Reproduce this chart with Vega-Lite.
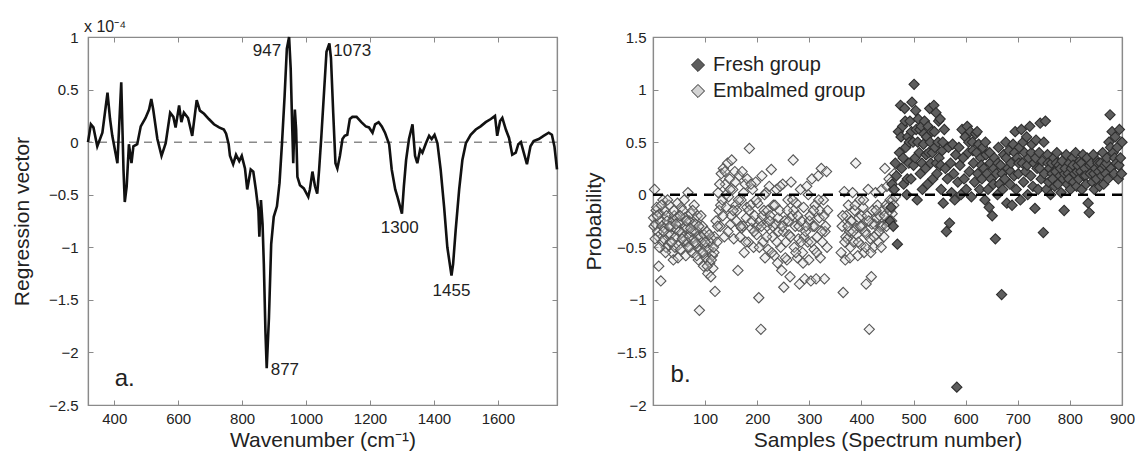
{
"$schema": "https://vega.github.io/schema/vega-lite/v6.json",
"padding": {"left": 10, "top": 18, "right": 5, "bottom": 5},
"config": {
 "font": "Liberation Sans",
 "view": {"stroke": "#8a8a8a", "strokeWidth": 1.2},
 "axis": {"grid": false, "domainColor": "#8a8a8a", "domainWidth": 1.2, "tickColor": "#8a8a8a", "tickSize": -5, "labelFontSize": 15, "labelColor": "#222", "titleFontSize": 21, "titleFontWeight": "normal", "titleColor": "#222", "labelFlush": false, "labelOverlap": false},
 "axisX": {"labelPadding": 11, "titlePadding": 3},
 "axisY": {"labelPadding": 15, "titlePadding": 16},
 "text": {"fontSize": 17, "color": "#222"}
},
"datasets": {
 "spec": [
{"w":318,"v":0},{"w":327,"v":0.17},{"w":335,"v":0.14},{"w":347,"v":-0.04},{"w":363,"v":0.09},{"w":379,"v":0.47},{"w":387,"v":0.22},{"w":394,"v":0.06},{"w":410,"v":-0.2},{"w":422,"v":0.57},{"w":429,"v":-0.26},{"w":433,"v":-0.57},{"w":439,"v":-0.42},{"w":446,"v":-0.02},{"w":454,"v":-0.2},{"w":460,"v":-0.04},{"w":472,"v":-0.02},{"w":483,"v":0.15},{"w":498,"v":0.23},{"w":509,"v":0.31},{"w":516,"v":0.41},{"w":522,"v":0.31},{"w":535,"v":0.03},{"w":548,"v":-0.13},{"w":561,"v":-0.01},{"w":575,"v":0.28},{"w":585,"v":0.24},{"w":592,"v":0.14},{"w":603,"v":0.35},{"w":610,"v":0.19},{"w":618,"v":0.28},{"w":631,"v":0.23},{"w":644,"v":0.06},{"w":658,"v":0.4},{"w":668,"v":0.3},{"w":681,"v":0.27},{"w":696,"v":0.22},{"w":712,"v":0.17},{"w":728,"v":0.14},{"w":743,"v":0.12},{"w":750,"v":0.08},{"w":758,"v":-0.02},{"w":762,"v":-0.13},{"w":772,"v":-0.21},{"w":781,"v":-0.12},{"w":791,"v":-0.18},{"w":799,"v":-0.13},{"w":809,"v":-0.25},{"w":816,"v":-0.45},{"w":827,"v":-0.26},{"w":835,"v":-0.28},{"w":843,"v":-0.45},{"w":851,"v":-0.65},{"w":854,"v":-0.9},{"w":859,"v":-0.55},{"w":864,"v":-0.78},{"w":868,"v":-1.16},{"w":873,"v":-1.8},{"w":877,"v":-2.15},{"w":884,"v":-1.67},{"w":891,"v":-0.97},{"w":899,"v":-0.71},{"w":909,"v":-0.61},{"w":917,"v":-0.39},{"w":925,"v":0},{"w":933,"v":0.44},{"w":940,"v":0.89},{"w":947,"v":1.0},{"w":952,"v":0.7},{"w":957,"v":0.12},{"w":960,"v":-0.2},{"w":965,"v":0.31},{"w":969,"v":0.12},{"w":973,"v":-0.33},{"w":981,"v":-0.41},{"w":993,"v":-0.44},{"w":1007,"v":-0.52},{"w":1012,"v":-0.45},{"w":1020,"v":-0.28},{"w":1028,"v":-0.42},{"w":1035,"v":-0.49},{"w":1041,"v":-0.26},{"w":1048,"v":0.06},{"w":1057,"v":0.51},{"w":1064,"v":0.86},{"w":1073,"v":0.94},{"w":1078,"v":0.8},{"w":1085,"v":0.28},{"w":1092,"v":-0.2},{"w":1098,"v":-0.25},{"w":1106,"v":-0.13},{"w":1114,"v":0.03},{"w":1121,"v":0.06},{"w":1129,"v":0.07},{"w":1137,"v":0.22},{"w":1145,"v":0.24},{"w":1158,"v":0.24},{"w":1173,"v":0.19},{"w":1187,"v":0.15},{"w":1197,"v":0.14},{"w":1208,"v":0.09},{"w":1216,"v":0.17},{"w":1227,"v":0.19},{"w":1237,"v":0.15},{"w":1247,"v":0.09},{"w":1260,"v":-0.02},{"w":1268,"v":-0.26},{"w":1279,"v":-0.45},{"w":1286,"v":-0.52},{"w":1300,"v":-0.68},{"w":1306,"v":-0.42},{"w":1313,"v":-0.17},{"w":1322,"v":0.03},{"w":1333,"v":0.17},{"w":1341,"v":-0.13},{"w":1348,"v":-0.2},{"w":1357,"v":-0.07},{"w":1364,"v":-0.1},{"w":1375,"v":-0.01},{"w":1385,"v":0.06},{"w":1393,"v":0.03},{"w":1402,"v":0.07},{"w":1411,"v":-0.01},{"w":1421,"v":-0.26},{"w":1432,"v":-0.62},{"w":1442,"v":-1.0},{"w":1455,"v":-1.27},{"w":1460,"v":-1.16},{"w":1468,"v":-0.84},{"w":1479,"v":-0.45},{"w":1489,"v":-0.17},{"w":1500,"v":-0.01},{"w":1515,"v":0.07},{"w":1531,"v":0.12},{"w":1546,"v":0.15},{"w":1562,"v":0.19},{"w":1578,"v":0.22},{"w":1591,"v":0.25},{"w":1598,"v":0.06},{"w":1607,"v":0.2},{"w":1614,"v":0.23},{"w":1625,"v":0.12},{"w":1635,"v":0.04},{"w":1645,"v":-0.12},{"w":1656,"v":-0.1},{"w":1664,"v":-0.02},{"w":1672,"v":0},{"w":1681,"v":-0.1},{"w":1691,"v":-0.21},{"w":1702,"v":-0.04},{"w":1712,"v":0.01},{"w":1728,"v":0.03},{"w":1743,"v":0.06},{"w":1759,"v":0.09},{"w":1769,"v":0.07},{"w":1777,"v":-0.04},{"w":1785,"v":-0.26}
 ],
 "emb": [
{"s":1,"p":-0.22},{"s":2,"p":-0.3},{"s":3,"p":0.05},{"s":5,"p":-0.28},{"s":6,"p":-0.15},{"s":7,"p":-0.12},{"s":9,"p":-0.35},{"s":10,"p":-0.4},{"s":11,"p":-0.68},{"s":13,"p":-0.18},{"s":14,"p":-0.25},{"s":15,"p":-0.82},{"s":17,"p":-0.3},{"s":18,"p":-0.45},{"s":19,"p":-0.05},{"s":21,"p":-0.42},{"s":22,"p":-0.32},{"s":23,"p":-0.15},{"s":25,"p":-0.5},{"s":26,"p":-0.2},{"s":27,"p":-0.25},{"s":29,"p":-0.38},{"s":30,"p":-0.48},{"s":31,"p":-0.1},{"s":33,"p":-0.45},{"s":34,"p":-0.38},{"s":35,"p":-0.3},{"s":37,"p":-0.55},{"s":38,"p":-0.25},{"s":39,"p":-0.62},{"s":41,"p":-0.2},{"s":42,"p":-0.5},{"s":43,"p":-0.4},{"s":45,"p":-0.33},{"s":46,"p":-0.22},{"s":47,"p":-0.08},{"s":49,"p":-0.48},{"s":50,"p":-0.35},{"s":51,"p":-0.27},{"s":53,"p":-0.52},{"s":54,"p":-0.12},{"s":55,"p":-0.36},{"s":57,"p":-0.15},{"s":58,"p":-0.4},{"s":59,"p":-0.44},{"s":61,"p":-0.22},{"s":62,"p":-0.3},{"s":63,"p":-0.58},{"s":65,"p":-0.32},{"s":66,"p":-0.45},{"s":67,"p":0.02},{"s":69,"p":-0.4},{"s":70,"p":-0.25},{"s":71,"p":-0.5},{"s":73,"p":-0.18},{"s":74,"p":-0.35},{"s":75,"p":-0.55},{"s":77,"p":-0.28},{"s":78,"p":-0.42},{"s":79,"p":-0.1},{"s":81,"p":-0.35},{"s":82,"p":-0.28},{"s":83,"p":-0.47},{"s":85,"p":-0.2},{"s":86,"p":-0.4},{"s":87,"p":-0.62},{"s":89,"p":-1.1},{"s":90,"p":-0.52},{"s":91,"p":-0.4},{"s":93,"p":-0.55},{"s":94,"p":-0.45},{"s":95,"p":-0.3},{"s":97,"p":-0.68},{"s":98,"p":-0.38},{"s":99,"p":-0.48},{"s":101,"p":-0.6},{"s":102,"p":-0.5},{"s":103,"p":-0.35},{"s":105,"p":-0.75},{"s":106,"p":-0.62},{"s":107,"p":-0.52},{"s":109,"p":-0.65},{"s":110,"p":-0.45},{"s":111,"p":-0.78},{"s":113,"p":-0.42},{"s":114,"p":-0.58},{"s":115,"p":-0.7},{"s":117,"p":-0.55},{"s":118,"p":-0.4},{"s":119,"p":-0.92},
{"s":121,"p":-0.25},{"s":123,"p":-0.45},{"s":125,"p":0.02},{"s":127,"p":-0.15},{"s":129,"p":-0.3},{"s":130,"p":-0.1},{"s":131,"p":0.2},{"s":133,"p":-0.05},{"s":135,"p":0.25},{"s":137,"p":-0.4},{"s":139,"p":0.1},{"s":140,"p":0.0},{"s":141,"p":-0.12},{"s":143,"p":0.3},{"s":145,"p":-0.02},{"s":147,"p":0.15},{"s":149,"p":-0.28},{"s":150,"p":-0.2},{"s":151,"p":0.33},{"s":153,"p":0.05},{"s":155,"p":-0.42},{"s":157,"p":0.22},{"s":159,"p":-0.1},{"s":160,"p":-0.25},
{"s":161,"p":-0.15},{"s":163,"p":-0.72},{"s":165,"p":0.18},{"s":167,"p":-0.4},{"s":169,"p":-0.05},{"s":170,"p":-0.32},{"s":171,"p":0.22},{"s":173,"p":-0.3},{"s":175,"p":-0.55},{"s":177,"p":0.1},{"s":179,"p":-0.22},{"s":180,"p":-0.12},{"s":181,"p":0.15},{"s":183,"p":-0.45},{"s":185,"p":0.44},{"s":187,"p":-0.1},{"s":189,"p":-0.32},{"s":190,"p":-0.25},{"s":191,"p":0.05},{"s":193,"p":-0.5},{"s":195,"p":-0.2},{"s":197,"p":0.12},{"s":199,"p":-0.38},{"s":200,"p":-0.3},{"s":201,"p":-0.08},{"s":203,"p":-0.98},{"s":205,"p":-0.25},{"s":207,"p":-1.28},{"s":209,"p":0.18},{"s":210,"p":-0.2},{"s":211,"p":-0.45},{"s":213,"p":-0.15},{"s":215,"p":-0.6},{"s":217,"p":0.02},{"s":219,"p":-0.3},{"s":220,"p":-0.15},{"s":221,"p":-0.52},{"s":223,"p":0.08},{"s":225,"p":-0.2},{"s":227,"p":0.24},{"s":229,"p":-0.4},{"s":230,"p":-0.3},{"s":231,"p":-0.1},{"s":233,"p":-0.58},{"s":235,"p":-0.28},{"s":237,"p":0.05},{"s":239,"p":-0.65},{"s":240,"p":-0.22},{"s":241,"p":-0.35},{"s":243,"p":-0.15},{"s":245,"p":-0.5},{"s":247,"p":-0.72},{"s":249,"p":0.1},{"s":250,"p":-0.35},{"s":251,"p":-0.88},{"s":253,"p":-0.25},{"s":255,"p":-0.45},{"s":257,"p":-0.62},{"s":259,"p":-0.05},{"s":260,"p":-0.25},{"s":261,"p":-0.38},{"s":263,"p":-0.78},{"s":265,"p":0.12},{"s":267,"p":-0.2},{"s":269,"p":0.33},{"s":270,"p":-0.15},{"s":271,"p":-0.5},{"s":273,"p":-0.3},{"s":275,"p":-0.08},{"s":277,"p":-0.6},{"s":279,"p":-0.42},{"s":280,"p":-0.3},{"s":281,"p":-0.85},{"s":283,"p":0.05},{"s":285,"p":-0.25},{"s":287,"p":-0.55},{"s":289,"p":-0.12},{"s":290,"p":-0.4},{"s":291,"p":-0.8},{"s":293,"p":-0.35},{"s":295,"p":0.08},{"s":297,"p":-0.45},{"s":299,"p":-0.62},{"s":300,"p":-0.25},{"s":301,"p":-0.2},{"s":303,"p":-0.82},{"s":305,"p":0.15},{"s":307,"p":-0.3},{"s":309,"p":-0.52},{"s":310,"p":-0.3},{"s":311,"p":-0.1},{"s":313,"p":-0.8},{"s":315,"p":-0.4},{"s":317,"p":0.18},{"s":319,"p":-0.22},{"s":320,"p":-0.15},{"s":321,"p":-0.6},{"s":323,"p":0.25},{"s":325,"p":-0.45},{"s":327,"p":-0.05},{"s":329,"p":-0.8},{"s":330,"p":-0.35},{"s":331,"p":-0.3},{"s":333,"p":0.22},{"s":335,"p":-0.15},
{"s":361,"p":-0.55},{"s":363,"p":-0.3},{"s":365,"p":-0.93},{"s":367,"p":0.03},{"s":369,"p":-0.62},{"s":370,"p":-0.4},{"s":371,"p":-0.2},{"s":373,"p":-0.42},{"s":375,"p":-0.1},{"s":377,"p":-0.35},{"s":379,"p":-0.5},{"s":380,"p":-0.25},{"s":381,"p":-0.25},{"s":383,"p":0.02},{"s":385,"p":-0.45},{"s":387,"p":-0.15},{"s":389,"p":0.3},{"s":390,"p":-0.32},{"s":391,"p":-0.38},{"s":393,"p":-0.58},{"s":395,"p":-0.22},{"s":397,"p":-0.05},{"s":399,"p":-0.48},{"s":400,"p":-0.2},{"s":401,"p":-0.3},{"s":403,"p":-0.12},{"s":405,"p":-0.55},{"s":407,"p":-0.35},{"s":409,"p":-0.85},{"s":410,"p":-0.38},{"s":411,"p":-0.2},{"s":413,"p":0.05},{"s":415,"p":-1.28},{"s":417,"p":-0.42},{"s":419,"p":-0.78},{"s":420,"p":-0.28},{"s":421,"p":-0.15},{"s":423,"p":-0.5},{"s":425,"p":-0.28},{"s":427,"p":0.02},{"s":429,"p":-0.38},{"s":430,"p":-0.22},{"s":431,"p":-0.1},{"s":433,"p":-0.45},{"s":435,"p":-0.2},{"s":437,"p":-0.3},{"s":439,"p":0.05},{"s":440,"p":-0.3},{"s":441,"p":-0.15},{"s":443,"p":-0.4},{"s":445,"p":0.25},{"s":447,"p":-0.1},{"s":449,"p":0.08},{"s":450,"p":-0.12},{"s":451,"p":-0.25},{"s":453,"p":0.15},{"s":455,"p":-0.05},{"s":457,"p":0.12},{"s":459,"p":-0.18},{"s":460,"p":-0.05},{"s":461,"p":0.05},{"s":463,"p":0.2},{"s":465,"p":-0.02},
{"s":4,"p":-0.42},{"s":8,"p":-0.2},{"s":12,"p":-0.5},{"s":16,"p":-0.1},{"s":20,"p":-0.35},{"s":24,"p":-0.55},{"s":28,"p":-0.05},{"s":32,"p":-0.3},{"s":36,"p":-0.45},{"s":40,"p":-0.15},{"s":44,"p":-0.28},{"s":48,"p":-0.6},{"s":52,"p":-0.2},{"s":56,"p":-0.42},{"s":60,"p":-0.05},{"s":64,"p":-0.25},{"s":68,"p":-0.5},{"s":72,"p":-0.32},{"s":76,"p":-0.15},{"s":80,"p":-0.45},{"s":84,"p":-0.58},{"s":88,"p":-0.3},{"s":92,"p":-0.2},{"s":96,"p":-0.55},{"s":100,"p":-0.45},{"s":104,"p":-0.68},{"s":108,"p":-0.38},{"s":112,"p":-0.62},{"s":116,"p":-0.5},
{"s":124,"p":-0.3},{"s":128,"p":0.1},{"s":134,"p":-0.2},{"s":138,"p":0.22},{"s":144,"p":-0.35},{"s":148,"p":0.05},{"s":154,"p":-0.15},{"s":158,"p":0.12},
{"s":164,"p":-0.05},{"s":168,"p":-0.3},{"s":174,"p":0.02},{"s":178,"p":-0.45},{"s":184,"p":-0.15},{"s":188,"p":0.1},{"s":194,"p":-0.35},{"s":198,"p":-0.05},{"s":204,"p":-0.5},{"s":208,"p":-0.3},{"s":214,"p":0.0},{"s":218,"p":-0.4},{"s":224,"p":-0.25},{"s":228,"p":-0.55},{"s":234,"p":-0.1},{"s":238,"p":-0.45},{"s":244,"p":0.08},{"s":248,"p":-0.3},{"s":254,"p":-0.6},{"s":258,"p":-0.15},{"s":264,"p":-0.4},{"s":268,"p":-0.05},{"s":274,"p":-0.55},{"s":278,"p":-0.2},{"s":284,"p":-0.45},{"s":288,"p":-0.65},{"s":294,"p":-0.3},{"s":298,"p":0.0},{"s":304,"p":-0.45},{"s":308,"p":-0.15},{"s":314,"p":-0.55},{"s":318,"p":-0.05},{"s":324,"p":-0.35},{"s":328,"p":-0.2},{"s":334,"p":-0.5},
{"s":364,"p":-0.2},{"s":368,"p":-0.45},{"s":374,"p":-0.3},{"s":378,"p":-0.6},{"s":384,"p":-0.35},{"s":388,"p":-0.1},{"s":394,"p":-0.45},{"s":398,"p":-0.3},{"s":404,"p":-0.05},{"s":408,"p":-0.5},{"s":414,"p":-0.25},{"s":418,"p":-0.55},{"s":424,"p":-0.4},{"s":428,"p":-0.15},{"s":434,"p":-0.35},{"s":438,"p":-0.5},{"s":444,"p":-0.2},{"s":448,"p":-0.3},{"s":454,"p":-0.15},{"s":458,"p":-0.25},{"s":462,"p":-0.1}
 ],
 "fresh": [
{"s":455,"p":-0.25},{"s":457,"p":-0.12},{"s":459,"p":0.1},{"s":461,"p":-0.3},{"s":463,"p":0.05},{"s":465,"p":0.3},{"s":467,"p":0.18},{"s":469,"p":-0.47},{"s":471,"p":0.6},{"s":473,"p":0.4},{"s":475,"p":0.85},{"s":476,"p":0.55},{"s":477,"p":0.25},{"s":479,"p":0.65},{"s":480,"p":0.35},{"s":481,"p":0.1},{"s":483,"p":0.82},{"s":484,"p":0.7},{"s":485,"p":0.45},{"s":487,"p":0.0},{"s":488,"p":0.15},{"s":489,"p":0.55},{"s":491,"p":0.3},{"s":492,"p":0.5},{"s":493,"p":0.7},{"s":495,"p":0.15},{"s":496,"p":0.6},{"s":497,"p":0.88},{"s":499,"p":0.5},{"s":500,"p":0.28},{"s":501,"p":1.05},{"s":503,"p":0.35},{"s":504,"p":0.8},{"s":505,"p":0.62},{"s":507,"p":-0.05},{"s":508,"p":0.5},{"s":509,"p":0.72},{"s":511,"p":0.4},{"s":512,"p":0.62},{"s":513,"p":0.2},{"s":515,"p":0.65},{"s":516,"p":0.3},{"s":517,"p":0.05},{"s":519,"p":0.48},{"s":520,"p":0.58},{"s":521,"p":0.7},{"s":523,"p":0.25},{"s":524,"p":0.38},{"s":525,"p":0.55},{"s":527,"p":0.1},{"s":528,"p":0.65},{"s":529,"p":0.4},{"s":531,"p":0.82},{"s":532,"p":0.5},{"s":533,"p":0.3},{"s":535,"p":0.6},{"s":536,"p":0.4},{"s":537,"p":0.15},{"s":539,"p":0.85},{"s":540,"p":0.6},{"s":541,"p":0.45},{"s":543,"p":0.78},{"s":544,"p":0.3},{"s":545,"p":0.2},{"s":547,"p":0.5},{"s":548,"p":0.7},{"s":549,"p":0.35},{"s":551,"p":0.72},{"s":552,"p":0.28},{"s":553,"p":0.05},{"s":555,"p":0.42},{"s":556,"p":0.5},{"s":557,"p":-0.08},{"s":559,"p":0.62},{"s":561,"p":0.25},{"s":563,"p":-0.35},{"s":565,"p":0.15},{"s":567,"p":0.45},{"s":569,"p":-0.27},{"s":571,"p":0.3},{"s":573,"p":0.02},{"s":575,"p":0.48},{"s":577,"p":0.2},{"s":579,"p":-0.05},{"s":581,"p":0.38},{"s":583,"p":-1.83},{"s":585,"p":0.12},{"s":587,"p":0.45},{"s":589,"p":0.28},{"s":591,"p":0.0},{"s":593,"p":0.62},{"s":595,"p":0.35},{"s":597,"p":0.15},{"s":599,"p":0.55},{"s":601,"p":0.05},{"s":603,"p":0.65},{"s":605,"p":0.4},{"s":606,"p":0.5},{"s":607,"p":0.22},{"s":609,"p":0.6},{"s":611,"p":-0.02},{"s":613,"p":0.5},{"s":614,"p":0.42},{"s":615,"p":0.3},{"s":617,"p":0.12},{"s":619,"p":0.58},{"s":621,"p":0.4},{"s":622,"p":0.6},{"s":623,"p":0.2},{"s":625,"p":0.48},{"s":627,"p":0.05},{"s":629,"p":0.35},{"s":630,"p":0.28},{"s":631,"p":0.15},{"s":633,"p":0.45},{"s":635,"p":0.25},{"s":637,"p":-0.05},{"s":638,"p":0.5},{"s":639,"p":0.38},{"s":641,"p":0.2},{"s":643,"p":0.05},{"s":645,"p":-0.12},{"s":646,"p":0.4},{"s":647,"p":0.3},{"s":649,"p":0.15},{"s":651,"p":-0.2},{"s":653,"p":0.1},{"s":654,"p":0.25},{"s":655,"p":0.35},{"s":657,"p":-0.42},{"s":659,"p":0.2},{"s":661,"p":0.0},{"s":662,"p":0.3},{"s":663,"p":0.45},{"s":665,"p":0.1},{"s":667,"p":0.28},{"s":669,"p":-0.95},{"s":670,"p":0.2},{"s":671,"p":0.05},{"s":673,"p":0.38},{"s":675,"p":0.15},{"s":677,"p":0.5},{"s":678,"p":0.35},{"s":679,"p":-0.08},{"s":681,"p":0.25},{"s":683,"p":0.42},{"s":685,"p":0.1},{"s":686,"p":0.22},{"s":687,"p":0.3},{"s":689,"p":-0.1},{"s":691,"p":0.48},{"s":693,"p":0.18},{"s":694,"p":0.4},{"s":695,"p":0.6},{"s":697,"p":0.05},{"s":699,"p":0.35},{"s":701,"p":0.2},{"s":702,"p":0.3},{"s":703,"p":0.45},{"s":705,"p":-0.05},{"s":707,"p":0.62},{"s":709,"p":0.3},{"s":710,"p":0.5},{"s":711,"p":0.12},{"s":713,"p":0.4},{"s":715,"p":0.22},{"s":717,"p":0.55},{"s":718,"p":0.28},{"s":719,"p":0.0},{"s":721,"p":0.35},{"s":723,"p":0.65},{"s":725,"p":0.18},{"s":726,"p":0.4},{"s":727,"p":0.48},{"s":729,"p":0.08},{"s":731,"p":0.3},{"s":733,"p":-0.13},{"s":734,"p":0.35},{"s":735,"p":0.52},{"s":737,"p":0.25},{"s":739,"p":0.05},{"s":741,"p":0.4},{"s":742,"p":0.25},{"s":743,"p":0.68},{"s":745,"p":0.15},{"s":747,"p":0.32},{"s":749,"p":-0.36},{"s":750,"p":0.5},{"s":751,"p":0.2},{"s":753,"p":0.7},{"s":755,"p":0.05},{"s":757,"p":0.38},{"s":758,"p":0.3},{"s":759,"p":0.12},{"s":761,"p":0.25},{"s":763,"p":0.0},{"s":765,"p":0.3},{"s":766,"p":0.2},{"s":767,"p":0.15},{"s":769,"p":0.35},{"s":771,"p":0.08},{"s":773,"p":0.22},{"s":774,"p":0.3},{"s":775,"p":0.4},{"s":777,"p":0.1},{"s":779,"p":0.28},{"s":781,"p":0.18},{"s":782,"p":0.25},{"s":783,"p":0.02},{"s":785,"p":0.32},{"s":787,"p":0.15},{"s":789,"p":-0.15},{"s":790,"p":0.2},{"s":791,"p":0.25},{"s":793,"p":0.38},{"s":795,"p":0.1},{"s":797,"p":0.2},{"s":798,"p":0.15},{"s":799,"p":0.3},{"s":801,"p":0.05},{"s":803,"p":0.25},{"s":805,"p":0.35},{"s":806,"p":0.28},{"s":807,"p":0.12},{"s":809,"p":0.2},{"s":811,"p":0.4},{"s":813,"p":0.08},{"s":814,"p":0.22},{"s":815,"p":0.28},{"s":817,"p":0.15},{"s":819,"p":0.32},{"s":821,"p":0.22},{"s":822,"p":0.3},{"s":823,"p":0.05},{"s":825,"p":0.38},{"s":827,"p":0.18},{"s":829,"p":0.25},{"s":830,"p":0.18},{"s":831,"p":0.1},{"s":833,"p":0.35},{"s":835,"p":-0.08},{"s":837,"p":-0.17},{"s":838,"p":0.28},{"s":839,"p":0.2},{"s":841,"p":0.3},{"s":843,"p":0.12},{"s":845,"p":0.38},{"s":846,"p":0.2},{"s":847,"p":0.05},{"s":849,"p":0.25},{"s":851,"p":0.15},{"s":853,"p":0.32},{"s":854,"p":0.3},{"s":855,"p":0.22},{"s":857,"p":0.08},{"s":859,"p":0.3},{"s":861,"p":0.18},{"s":862,"p":0.25},{"s":863,"p":0.4},{"s":865,"p":0.1},{"s":867,"p":0.28},{"s":869,"p":0.2},{"s":870,"p":0.3},{"s":871,"p":0.35},{"s":873,"p":0.15},{"s":875,"p":0.5},{"s":877,"p":0.76},{"s":878,"p":0.45},{"s":879,"p":0.25},{"s":881,"p":0.6},{"s":883,"p":0.4},{"s":885,"p":0.2},{"s":886,"p":0.35},{"s":887,"p":0.55},{"s":889,"p":0.3},{"s":891,"p":0.45},{"s":893,"p":0.15},{"s":894,"p":0.28},{"s":895,"p":0.62},{"s":897,"p":0.35},{"s":899,"p":0.2},{"s":900,"p":0.5}
 ]
},
"spacing": 19,
"hconcat": [
 {
  "width": 469, "height": 368,
  "title": {"text": "x 10⁻⁴", "anchor": "start", "frame": "group", "fontSize": 16, "fontWeight": "normal", "color": "#222", "offset": -5, "dx": -4},
  "layer": [
   {"data": {"values": [{}]}, "mark": {"type": "rule", "color": "#8a8a8a", "strokeDash": [8, 7], "strokeWidth": 1.5},
    "encoding": {"y": {"datum": 0, "type": "quantitative", "scale": {"domain": [-2.5, 1], "nice": false}, "axis": {"orient": "right", "labels": false, "title": null, "values": [-2.5, -2, -1.5, -1, -0.5, 0, 0.5, 1]}}}},
   {"data": {"name": "spec"}, "mark": {"type": "line", "color": "#111", "strokeWidth": 2.6},
    "encoding": {
     "x": {"field": "w", "type": "quantitative", "scale": {"domain": [318, 1785], "nice": false, "zero": false}, "axis": {"title": "Wavenumber (cm⁻¹)", "format": "d", "values": [400, 600, 800, 1000, 1200, 1400, 1600]}},
     "y": {"field": "v", "type": "quantitative", "scale": {"domain": [-2.5, 1], "nice": false}, "axis": {"title": "Regression vector", "format": "~g", "values": [-2.5, -2, -1.5, -1, -0.5, 0, 0.5, 1]}}}},
   {"data": {"values": [{}]}, "mark": {"type": "text", "text": "947", "align": "right", "baseline": "middle", "dx": -8},
    "encoding": {"x": {"datum": 947, "type": "quantitative", "axis": {"orient": "top", "labels": false, "title": null, "values": [400, 600, 800, 1000, 1200, 1400, 1600]}}, "y": {"datum": 0.865, "type": "quantitative", "axis": null}}},
   {"data": {"values": [{}]}, "mark": {"type": "text", "text": "1073", "align": "left", "baseline": "middle", "dx": 4},
    "encoding": {"x": {"datum": 1073, "type": "quantitative", "axis": null}, "y": {"datum": 0.865, "type": "quantitative", "axis": null}}},
   {"data": {"values": [{}]}, "mark": {"type": "text", "text": "877", "align": "left", "baseline": "middle", "dx": 4},
    "encoding": {"x": {"datum": 877, "type": "quantitative", "axis": null}, "y": {"datum": -2.17, "type": "quantitative", "axis": null}}},
   {"data": {"values": [{}]}, "mark": {"type": "text", "text": "1300", "align": "center", "baseline": "middle"},
    "encoding": {"x": {"datum": 1293, "type": "quantitative", "axis": null}, "y": {"datum": -0.82, "type": "quantitative", "axis": null}}},
   {"data": {"values": [{}]}, "mark": {"type": "text", "text": "1455", "align": "center", "baseline": "middle"},
    "encoding": {"x": {"datum": 1455, "type": "quantitative", "axis": null}, "y": {"datum": -1.42, "type": "quantitative", "axis": null}}},
   {"data": {"values": [{}]}, "mark": {"type": "text", "text": "a.", "align": "center", "baseline": "middle", "fontSize": 24},
    "encoding": {"x": {"datum": 433, "type": "quantitative", "axis": null}, "y": {"datum": -2.25, "type": "quantitative", "axis": null}}}
  ],
  "resolve": {"axis": {"x": "independent", "y": "independent"}}
 },
 {
  "width": 469, "height": 368,
  "layer": [
   {"data": {"name": "emb"}, "mark": {"type": "point", "shape": "diamond", "filled": true, "size": 105, "stroke": "#555", "strokeWidth": 1.1, "fillOpacity": 0.3},
    "encoding": {
     "x": {"field": "s", "type": "quantitative", "scale": {"domain": [0, 900], "nice": false}, "axis": {"title": "Samples (Spectrum number)", "values": [100, 200, 300, 400, 500, 600, 700, 800, 900]}},
     "y": {"field": "p", "type": "quantitative", "scale": {"domain": [-2, 1.5], "nice": false}, "axis": {"title": "Probability", "format": "~g", "values": [-2, -1.5, -1, -0.5, 0, 0.5, 1, 1.5], "labelPadding": 12, "titlePadding": 12}},
     "fill": {"datum": "Embalmed group", "type": "nominal", "scale": {"domain": ["Fresh group", "Embalmed group"], "range": ["#5e5e5e", "#d4d4d4"]},
      "legend": {"orient": "none", "legendX": 600, "legendY": 18, "title": null, "symbolType": "diamond", "symbolSize": 170, "labelFontSize": 20, "labelColor": "#222", "symbolStrokeColor": "#444", "symbolStrokeWidth": 1, "symbolOpacity": 1, "rowPadding": 6, "labelOffset": 5}}}},
   {"data": {"name": "fresh"}, "mark": {"type": "point", "shape": "diamond", "filled": true, "size": 105, "stroke": "#2e2e2e", "strokeWidth": 1.1, "fillOpacity": 1},
    "encoding": {
     "x": {"field": "s", "type": "quantitative", "axis": {"orient": "top", "labels": false, "title": null, "values": [100, 200, 300, 400, 500, 600, 700, 800, 900]}},
     "y": {"field": "p", "type": "quantitative", "axis": {"orient": "right", "labels": false, "title": null, "values": [-2, -1.5, -1, -0.5, 0, 0.5, 1, 1.5]}},
     "fill": {"datum": "Fresh group", "type": "nominal"}}},
   {"data": {"values": [{}]}, "mark": {"type": "rule", "color": "#000", "strokeDash": [10, 7], "strokeWidth": 2.5},
    "encoding": {"y": {"datum": 0, "type": "quantitative", "axis": null}}},
   {"data": {"values": [{}]}, "mark": {"type": "text", "text": "b.", "align": "center", "baseline": "middle", "fontSize": 24},
    "encoding": {"x": {"datum": 53, "type": "quantitative", "axis": null}, "y": {"datum": -1.71, "type": "quantitative", "axis": null}}}
  ],
  "resolve": {"axis": {"x": "independent", "y": "independent"}}
 }
]
}
